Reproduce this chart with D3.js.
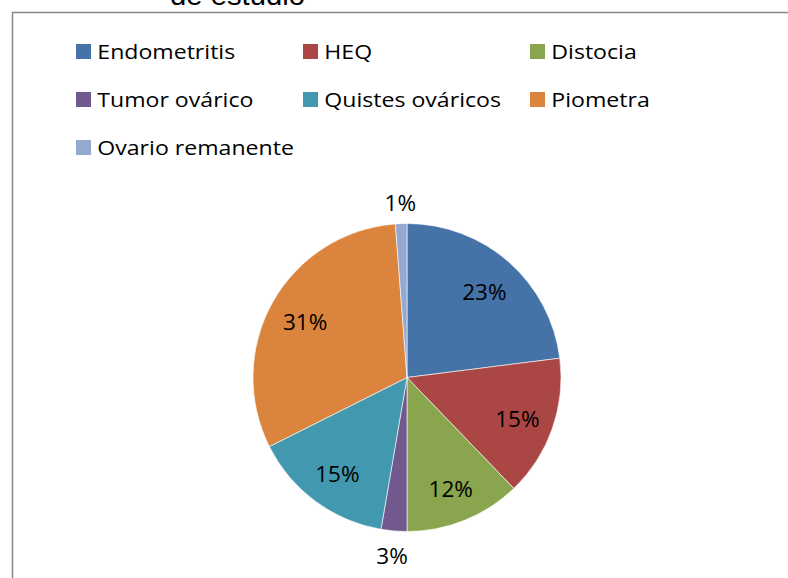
<!DOCTYPE html>
<html>
<head>
<meta charset="utf-8">
<script src="https://cdn.jsdelivr.net/npm/d3@7"></script>
<style>
  html, body { margin: 0; padding: 0; background: #fff; }
  svg { display: block; }
</style>
</head>
<body>
<svg id="chart" width="788" height="578"></svg>
<script>
const titleText = "de estudio";
const categories = ["Endometritis", "HEQ", "Distocia", "Tumor ovárico", "Quistes ováricos", "Piometra", "Ovario remanente"];
const values = [23.0, 14.8, 12.2, 2.7, 14.9, 31.2, 1.2];
const percentLabels = ["23%", "15%", "12%", "3%", "15%", "31%", "1%"];
const colors = ["#4572A7", "#AA4643", "#89A54E", "#71588F", "#4198AF", "#DB843D", "#93A9CF"];

const font = "'Open Sans', Lato, sans-serif";
const svg = d3.select("#chart");

// measure helper: returns horizontal scale needed so `str` at `size` spans `target` px
function stretchFor(str, size, family, target) {
  const t = svg.append("text").attr("font-family", family).attr("font-size", size).text(str);
  const w = t.node().getComputedTextLength();
  t.remove();
  return w > 0 ? target / w : 1;
}

// frame
svg.append("path")
  .attr("d", "M12.5,590 L12.5,12.5 L800,12.5")
  .attr("fill", "none")
  .attr("stroke", "#878787")
  .attr("stroke-width", 1.5);

// clipped title
const titleFamily = "'Liberation Sans', Arial, sans-serif";
const titleSize = 28;
const titleSx = stretchFor(titleText, titleSize, titleFamily, 135);
svg.append("text")
  .attr("transform", `translate(237.5,5) scale(${titleSx},1)`)
  .attr("text-anchor", "middle")
  .attr("font-family", titleFamily)
  .attr("font-size", titleSize)
  .attr("fill", "#000")
  .text(titleText);

// legend
const legendSize = 19.6;
const legendSx = stretchFor("Endometritis", legendSize, font, 138);
const legendCols = [76, 303, 530];
const legendRows = [51.5, 99.5, 147.5];
const legend = svg.append("g");
categories.forEach((c, i) => {
  const x = legendCols[i % 3], y = legendRows[Math.floor(i / 3)];
  legend.append("rect")
    .attr("x", x).attr("y", y - 7.5)
    .attr("width", 15).attr("height", 15)
    .attr("fill", colors[i]);
  legend.append("text")
    .attr("transform", `translate(${x + 21.3},${y}) scale(${legendSx},1)`)
    .attr("dy", "0.4em")
    .attr("font-family", font)
    .attr("font-size", legendSize)
    .attr("fill", "#000")
    .text(c);
});

// pie
const cx = 407, cy = 377.5, r = 154;
const pie = d3.pie().sort(null).value(d => d);
const arcs = pie(values);
const arc = d3.arc().innerRadius(0).outerRadius(r);
const g = svg.append("g").attr("transform", `translate(${cx},${cy})`);
g.selectAll("path.slice")
  .data(arcs)
  .join("path")
  .attr("class", "slice")
  .attr("d", arc)
  .attr("fill", (d, i) => colors[i])
  .attr("stroke", "#ffffff")
  .attr("stroke-width", 0.6);

const labelSize = 21;
const labelSx = stretchFor("23%", labelSize, font, 44.4);
const inArc = d3.arc().innerRadius(r * 0.76).outerRadius(r * 0.76);
const outArc = d3.arc().innerRadius(r + 23).outerRadius(r + 23);
g.selectAll("text.lbl")
  .data(arcs)
  .join("text")
  .attr("class", "lbl")
  .attr("transform", (d) => {
    const p = (d.data < 5 ? outArc : inArc).centroid(d);
    return `translate(${p[0]},${p[1]}) scale(${labelSx},1)`;
  })
  .attr("text-anchor", "middle")
  .attr("dy", "0.5em")
  .attr("font-family", font)
  .attr("font-size", labelSize)
  .attr("fill", "#000")
  .text((d, i) => percentLabels[i]);
</script>
</body>
</html>
